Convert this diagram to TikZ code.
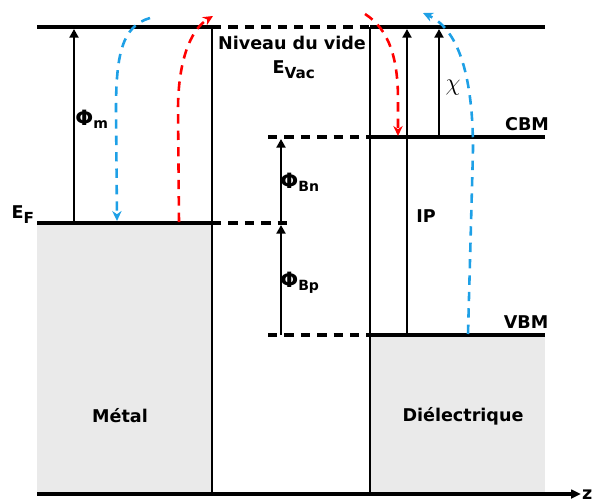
\documentclass[tikz,border=0pt]{standalone}
\usepackage{fontspec}
\setmainfont{DejaVu Sans}
\usetikzlibrary{arrows.meta}
\definecolor{bandgrey}{RGB}{234,234,234}
\definecolor{hopblue}{RGB}{30,160,230}

\begin{document}
\begin{tikzpicture}[x=0.03cm,y=-0.03cm,
  level/.style={line width=2.6pt},
  leveldash/.style={line width=2.6pt,dash pattern=on 8pt off 6pt},
  wall/.style={line width=2pt},
  gap/.style={-{Triangle[length=2.6mm,width=2.7mm]},line width=1.8pt},
  hop/.style={line width=2.2pt,dash pattern=on 8pt off 6pt,-{Stealth[length=3mm,width=2.8mm]}},
  lab/.style={font=\bfseries\fontsize{15}{17}\selectfont,inner sep=0pt,anchor=base},
  phi/.style={lab,font=\bfseries\fontsize{18}{20}\selectfont}
]
  \useasboundingbox (0,0) rectangle (592,502);

  % bands
  \fill[bandgrey] (37,223) rectangle (212,493);
  \fill[bandgrey] (370,335) rectangle (545,493);

  % level end points
  \coordinate (vac0) at (37,27);   \coordinate (vac1) at (212,27);
  \coordinate (vac2) at (370,27);  \coordinate (vac3) at (545,27);
  \coordinate (ef0) at (37,223);   \coordinate (ef1) at (212,223);
  \coordinate (ef2) at (290,223);
  \coordinate (cbm0) at (268,137); \coordinate (cbm1) at (370,137);
  \coordinate (cbm2) at (545,137);
  \coordinate (vbm0) at (268,335); \coordinate (vbm1) at (370,335);
  \coordinate (vbm2) at (545,335);
  \coordinate (base0) at (37,494); \coordinate (base1) at (212,494);
  \coordinate (base2) at (370,494); \coordinate (base3) at (581,494);

  % levels and walls
  \draw[level] (vac0) -- (vac1) (vac2) -- (vac3);
  \draw[leveldash] (vac1) -- (vac2);
  \draw[level] (ef0) -- (ef1);
  \draw[leveldash] (ef1) -- (ef2);
  \draw[leveldash] (cbm0) -- (cbm1);
  \draw[level] (cbm1) -- (cbm2);
  \draw[leveldash] (vbm0) -- (vbm1);
  \draw[level] (vbm1) -- (vbm2);
  \draw[wall] (vac1) -- (base1) (vac2) -- (base2);
  \draw[level,-{Triangle[length=3mm,width=2.6mm]}] (base0) -- (base3);

  % energy gaps
  \coordinate (phim0) at (74,223);  \coordinate (phim1) at (74,29);
  \coordinate (bn0) at (281,223);   \coordinate (bn1) at (281,139);
  \coordinate (bp0) at (281,335);   \coordinate (bp1) at (281,225);
  \coordinate (ip0) at (407,335);   \coordinate (ip1) at (407,29);
  \coordinate (chi0) at (439,137);  \coordinate (chi1) at (439,29);
  \draw[gap] (phim0) -- (phim1);
  \draw[gap] (bn0) -- (bn1);
  \draw[gap] (bp0) -- (bp1);
  \draw[gap] (ip0) -- (ip1);
  \draw[gap] (chi0) -- (chi1);

  % carrier paths
  \draw[hop,hopblue] (150,18) .. controls (122,26) and (116,55) .. (116,110) -- (117,221);
  \draw[hop,red] (179,222) -- (178,110) .. controls (178,62) and (190,30) .. (213,16);
  \draw[hop,red] (365,14) .. controls (390,30) and (398,60) .. (398,100) -- (398,136);
  \draw[hop,hopblue] (468,334) -- (473,150) .. controls (473,80) and (460,30) .. (423,13);

  % labels
  \node[lab] (vide) at (292,49) {Niveau du vide};
  \node[lab] (evac) at (294,73) {E\textsubscript{\fontsize{13}{15}\selectfont Vac}};
  \node[lab] (ef) at (23,218) {E\textsubscript{\fontsize{13}{15}\selectfont F}};
  \node[phi] (phim) at (92,125) {Φ\textsubscript{\fontsize{12}{14}\selectfont m}};
  \node[phi] (phibn) at (300,188) {Φ\textsubscript{\fontsize{12}{14}\selectfont Bn}};
  \node[phi] (phibp) at (300,287) {Φ\textsubscript{\fontsize{12}{14}\selectfont Bp}};
  \node[lab] (ip) at (426,222) {IP};
  \node[lab,font=\fontsize{21}{23}\selectfont] (chi) at (453,90) {$\chi$};
  \node[lab] (cbm) at (527,130) {CBM};
  \node[lab] (vbm) at (526,328) {VBM};
  \node[lab] (metal) at (120,422) {Métal};
  \node[lab] (diel) at (463,421) {Diélectrique};
  \node[lab,anchor=base west] (z) at (582,499) {z};
\end{tikzpicture}
\end{document}
